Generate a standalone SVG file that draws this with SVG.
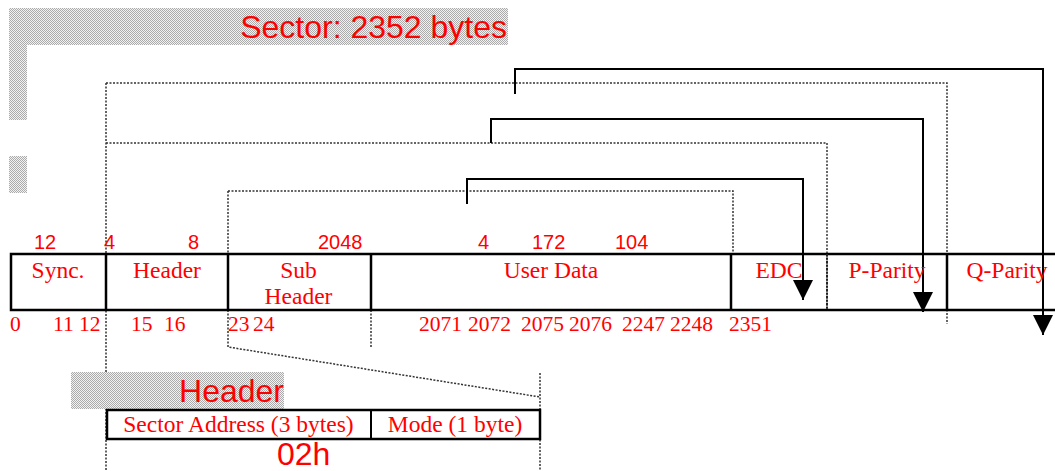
<svg xmlns="http://www.w3.org/2000/svg" width="1055" height="471" viewBox="0 0 1055 471">
<defs>
<pattern id="ht" patternUnits="userSpaceOnUse" width="2" height="2">
<rect width="2" height="2" fill="#f2f2f2"/>
<rect x="0" y="0" width="1" height="1" fill="#ababab"/>
<rect x="1" y="1" width="1" height="1" fill="#ababab"/>
</pattern>
<marker id="ah" viewBox="0 0 20 20" refX="10" refY="20" markerWidth="20" markerHeight="20" markerUnits="userSpaceOnUse" orient="0">
<path d="M0,0 L20,0 L10,20 Z" fill="#000"/>
</marker>
<style>
.ar{font-family:"Liberation Sans",Arial,sans-serif;fill:#ff0000}
.tm{font-family:"Liberation Serif","Times New Roman",serif;fill:#ff0000}
.lbl{font-size:23.5px;text-anchor:middle}
.num{font-size:21.5px}
.top{font-size:20px}
.big{font-size:32px}
.dot{fill:none;stroke:#333;stroke-width:1.5;stroke-dasharray:2 1.5}
.sol{fill:none;stroke:#000;stroke-width:2}
.tbl{fill:none;stroke:#000;stroke-width:2.5}
</style>
</defs>
<rect width="1055" height="471" fill="#fff"/>
<g id="title">
<path d="M9,8 H508 V45 H27 V120 H9 Z" fill="url(#ht)"/>
<rect x="9" y="156" width="18" height="37" fill="url(#ht)"/>
<text class="ar big" x="507" y="38" text-anchor="end">Sector: 2352 bytes</text>
</g>
<g id="connectors">
<path class="dot" d="M106,83 H947 V324"/>
<path class="dot" d="M106,83 V471"/>
<path class="dot" d="M106,143 H827 V310"/>
<path class="dot" d="M228,191 H733 V254"/>
<path class="dot" d="M228,191 V347 L540,397"/>
<path class="dot" d="M540,373 V471"/>
<path class="dot" d="M371,310 V347"/>
<path class="sol" d="M515,94 V69 H1043 V335" marker-end="url(#ah)"/>
<path class="sol" d="M491,143 V119 H923 V312" marker-end="url(#ah)"/>
<path class="sol" d="M467,204 V179 H803 V300" marker-end="url(#ah)"/>
</g>
<g id="sector-table">
<path class="tbl" d="M1055,254 H11 V310 H1055"/>
<path class="tbl" d="M106,254 V310 M228,254 V310 M371,254 V310 M731,254 V310 M947,254 V310"/>
<path class="dot" d="M827,254 V310" style="stroke:#222;stroke-width:2"/>
</g>
<g id="sizes">
<text class="ar top" x="34" y="249">12</text>
<text class="ar top" x="104" y="249">4</text>
<text class="ar top" x="188" y="249">8</text>
<text class="ar top" x="318" y="249">2048</text>
<text class="ar top" x="478" y="249">4</text>
<text class="ar top" x="532" y="249">172</text>
<text class="ar top" x="615" y="249">104</text>
</g>
<g id="field-sync"><text class="tm lbl" x="58" y="278">Sync.</text></g>
<g id="field-header"><text class="tm lbl" x="167" y="278">Header</text></g>
<g id="field-subheader"><text class="tm lbl" x="298.5" y="278">Sub</text><text class="tm lbl" x="298.5" y="303.5">Header</text></g>
<g id="field-userdata"><text class="tm lbl" x="551" y="278">User Data</text></g>
<g id="field-edc"><text class="tm lbl" x="779" y="278">EDC</text></g>
<g id="field-pparity"><text class="tm lbl" x="887" y="278">P-Parity</text></g>
<g id="field-qparity"><text class="tm lbl" x="1007" y="278">Q-Parity</text></g>
<g id="offsets">
<text class="tm num" x="10" y="331">0</text>
<text class="tm num" x="53" y="331">11</text>
<text class="tm num" x="79" y="331">12</text>
<text class="tm num" x="131" y="331">15</text>
<text class="tm num" x="164" y="331">16</text>
<text class="tm num" x="228" y="331">23</text>
<text class="tm num" x="253" y="331">24</text>
<text class="tm num" x="419" y="331">2071</text>
<text class="tm num" x="468" y="331">2072</text>
<text class="tm num" x="521" y="331">2075</text>
<text class="tm num" x="569" y="331">2076</text>
<text class="tm num" x="622" y="331">2247</text>
<text class="tm num" x="670" y="331">2248</text>
<text class="tm num" x="729" y="331">2351</text>
</g>
<g id="header-detail">
<rect x="71" y="372" width="213" height="37" fill="url(#ht)"/>
<text class="ar big" x="284" y="402" text-anchor="end">Header</text>
<rect x="107" y="410" width="433" height="29" fill="none" stroke="#000" stroke-width="2.5"/>
<path d="M371,410 V439" stroke="#000" stroke-width="2"/>
<text class="tm lbl" x="238.5" y="432">Sector Address (3 bytes)</text>
<text class="tm lbl" x="455" y="432">Mode (1 byte)</text>
<text class="ar big" x="277" y="465">02h</text>
</g>
</svg>
